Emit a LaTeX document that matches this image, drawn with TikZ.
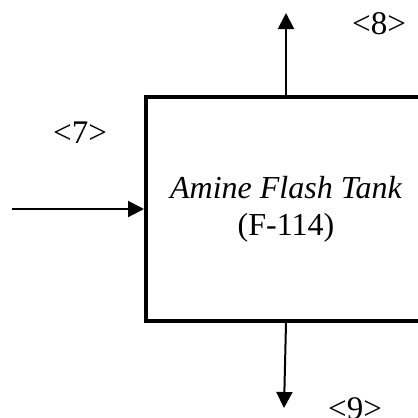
\documentclass[tikz,border=0pt]{standalone}
\usepackage{fontspec}
\setmainfont{Liberation Serif}
\usetikzlibrary{arrows.meta}
\begin{document}
\begin{tikzpicture}[x=1pt,y=-1pt,
  unitbox/.style={draw,line width=4pt,minimum width=280pt,minimum height=224pt,align=center,inner sep=0pt,
    font=\fontsize{32}{37}\selectfont},
  stream/.style={line width=2pt,-{Triangle[width=16pt,length=16pt]}},
  tag/.style={font=\fontsize{33}{38}\selectfont,inner sep=0pt}]
\clip (0,0) rectangle (418,418);
\node[unitbox] (box) at (286,209) {\itshape Amine Flash Tank\\(F-114)};
\coordinate (in7) at (12,209);
\coordinate (out8) at (286,13);
\coordinate (out9) at (284,408);
\draw[stream] (in7) -- (box.west);
\draw[stream] (box.north) -- (out8);
\draw[stream] (box.south) -- (out9);
\node[tag] (t7) at (80,133) {<7>};
\node[tag] (t8) at (379,24) {<8>};
\node[tag] (t9) at (355,409) {<9>};
\end{tikzpicture}
\end{document}
